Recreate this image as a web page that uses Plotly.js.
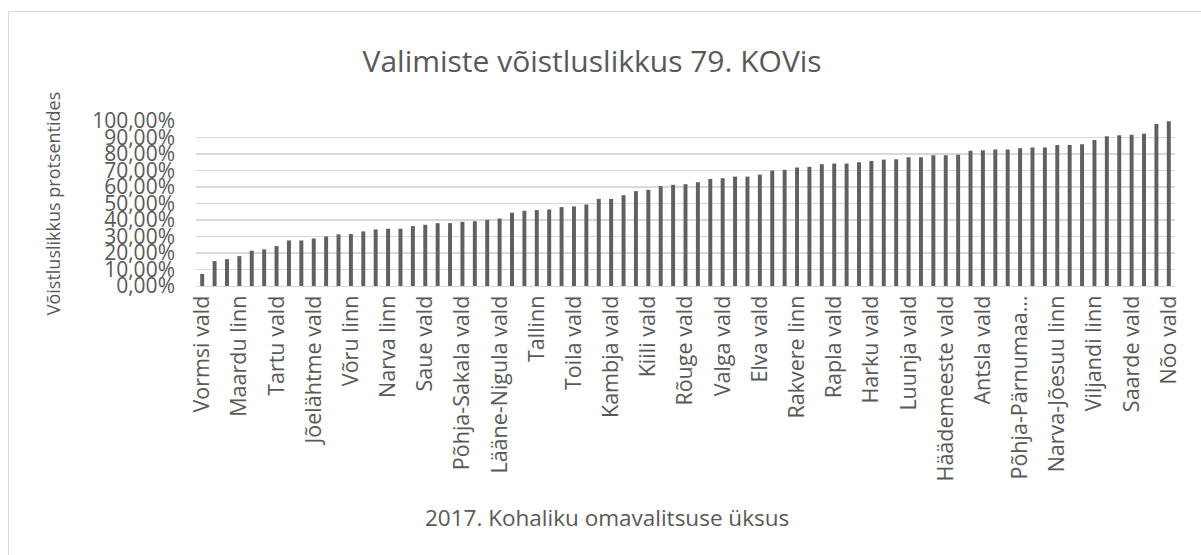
<!DOCTYPE html>
<html>
<head>
<meta charset="utf-8">
<script src="https://cdn.plot.ly/plotly-3.0.1.min.js"></script>
<style>
  html, body { margin: 0; padding: 0; background: #ffffff; }
  #wrap { position: relative; width: 1201px; height: 555px; overflow: hidden; }
  #chart { position: absolute; left: 0; top: 0; width: 1201px; height: 555px; }
  #frame { position: absolute; left: 8px; top: 11px; width: 1300px; height: 700px;
           border-left: 1px solid #d9d9d9; border-top: 1px solid #d9d9d9; pointer-events: none; }
</style>
</head>
<body>
<div id="wrap">
  <div id="chart"></div>
  <div id="frame"></div>
</div>
<script>
// Tick labels shown on the x axis (every third unit is labelled in the original)
const tickLabels = [
  "Vormsi vald", "Maardu linn", "Tartu vald", "Jõelähtme vald", "Võru linn",
  "Narva linn", "Saue vald", "Põhja-Sakala vald", "Lääne-Nigula vald", "Tallinn",
  "Toila vald", "Kambja vald", "Kiili vald", "Rõuge vald", "Valga vald",
  "Elva vald", "Rakvere linn", "Rapla vald", "Harku vald", "Luunja vald",
  "Häädemeeste vald", "Antsla vald", "Põhja-Pärnumaa…", "Narva-Jõesuu linn",
  "Viljandi linn", "Saarde vald", "Nõo vald"
];
const labelStep = 3;

// Competitiveness per local government unit (fraction, sorted ascending), 79 units
const competitiveness = [
  0.073, 0.151, 0.163, 0.181, 0.214, 0.222, 0.242, 0.276, 0.276, 0.288,
  0.300, 0.313, 0.315, 0.331, 0.343, 0.347, 0.347, 0.363, 0.371, 0.381,
  0.381, 0.389, 0.393, 0.401, 0.409, 0.444, 0.456, 0.460, 0.464, 0.478,
  0.482, 0.494, 0.528, 0.528, 0.550, 0.575, 0.583, 0.605, 0.613, 0.617,
  0.629, 0.649, 0.653, 0.663, 0.663, 0.675, 0.700, 0.704, 0.718, 0.722,
  0.738, 0.742, 0.742, 0.750, 0.758, 0.766, 0.768, 0.780, 0.780, 0.792,
  0.792, 0.796, 0.819, 0.823, 0.827, 0.827, 0.835, 0.839, 0.839, 0.855,
  0.855, 0.859, 0.885, 0.907, 0.913, 0.917, 0.923, 0.982, 0.998
];

const chartTitle = "Valimiste võistluslikkus 79. KOVis";
const xTitle = "2017. Kohaliku omavalitsuse üksus";
const yTitle = "Võistluslikkus protsentides";

const xIndex = competitiveness.map((_, i) => i);
const tickVals = tickLabels.map((_, k) => k * labelStep);

const textColor = "#595959";
const font = "Open Sans, Noto Sans, sans-serif";

const trace = {
  type: "bar",
  x: xIndex,
  y: competitiveness,
  marker: { color: "#606060" },
  hovertemplate: "%{y:.2%}<extra></extra>"
};

const layout = {
  width: 1201,
  height: 555,
  paper_bgcolor: "rgba(0,0,0,0)",
  plot_bgcolor: "#ffffff",
  separators: ", ",
  showlegend: false,
  bargap: 0.68,
  margin: { l: 195.5, r: 26, t: 120.7, b: 269, pad: 0 },
  font: { family: font, color: textColor },
  title: {
    text: chartTitle,
    font: { family: font, size: 30, color: textColor },
    x: 0.493, xref: "container", xanchor: "center",
    y: 1 - 61 / 555, yref: "container", yanchor: "middle"
  },
  xaxis: {
    range: [-0.5, competitiveness.length - 0.5],
    tickmode: "array",
    tickvals: tickVals,
    ticktext: tickLabels,
    tickangle: -90,
    tickfont: { family: font, size: 21.5, color: textColor },
    showgrid: false,
    zeroline: false,
    showline: true,
    linecolor: "#d9d9d9",
    linewidth: 1,
    ticks: "",
    fixedrange: true
  },
  yaxis: {
    range: [0, 1],
    tickmode: "linear",
    tick0: 0,
    dtick: 0.1,
    tickformat: ".2%",
    tickfont: { family: font, size: 21, color: textColor },
    ticklabelstandoff: 20,
    showgrid: true,
    gridcolor: "#d9d9d9",
    gridwidth: 1.3,
    zeroline: false,
    showline: false,
    ticks: "",
    title: {
      text: yTitle,
      font: { family: font, size: 18, color: textColor },
      standoff: 26
    },
    fixedrange: true
  },
  annotations: [{
    text: xTitle,
    xref: "paper", yref: "paper",
    x: 0.42, y: -1.403,
    xanchor: "center", yanchor: "middle",
    showarrow: false,
    font: { family: font, size: 22.5, color: textColor }
  }]
};

Plotly.newPlot("chart", [trace], layout, { displayModeBar: false, staticPlot: true });
</script>
</body>
</html>
